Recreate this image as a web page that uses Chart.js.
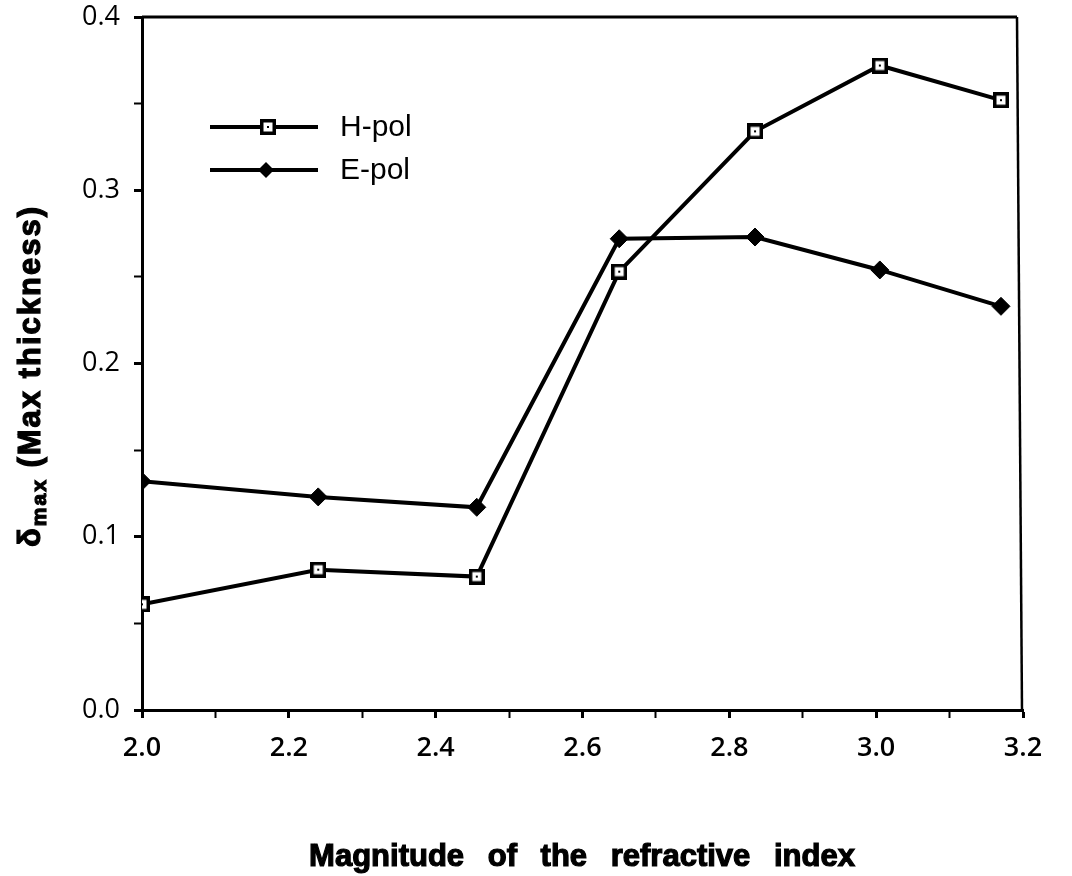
<!DOCTYPE html>
<html>
<head>
<meta charset="utf-8">
<script src="https://cdn.jsdelivr.net/npm/chart.js@4"></script>
<style>
  html, body { margin: 0; padding: 0; background: #fff; }
</style>
</head>
<body>
<canvas id="myChart" width="1072" height="876"></canvas>
<script>
const ctx = document.getElementById('myChart');

// values
const refIndex = [2.0, 2.24, 2.456, 2.65, 2.835, 3.005, 3.17];
const hPol = [0.061, 0.081, 0.077, 0.253, 0.334, 0.372, 0.352];
const ePol = [0.132, 0.123, 0.117, 0.272, 0.273, 0.254, 0.233];
const seriesNames = ['H-pol', 'E-pol'];
const xTitle = 'Magnitude of the refractive index';
const yTitleMain = 'δ';
const yTitleSub = 'max';
const yTitleRest = ' (Max thickness)';

const toPoints = (xs, ys) => xs.map((x, i) => ({ x: x, y: ys[i] }));

// open square with a dot in the middle
const boxMark = document.createElement('canvas');
boxMark.width = 16;
boxMark.height = 16;
const bx = boxMark.getContext('2d');
bx.fillStyle = '#fff';
bx.fillRect(0, 0, 16, 16);
bx.strokeStyle = '#000';
bx.lineWidth = 3.5;
bx.strokeRect(1.75, 1.75, 12.5, 12.5);
bx.fillStyle = '#000';
bx.fillRect(7, 7, 2, 2);

const FONT = '"Liberation Sans", Arial, sans-serif';

const insideLegend = {
  id: 'insideLegend',
  afterDraw(chart) {
    const c = chart.ctx;
    c.save();
    chart.data.datasets.forEach((ds, i) => {
      const y = 127 + i * 43;
      c.strokeStyle = '#000';
      c.lineWidth = 4;
      c.beginPath();
      c.moveTo(210, y);
      c.lineTo(318, y);
      c.stroke();
      if (ds.pointStyle === 'rectRot') {
        c.fillStyle = '#000';
        c.beginPath();
        c.moveTo(266, y - 8);
        c.lineTo(274, y);
        c.lineTo(266, y + 8);
        c.lineTo(258, y);
        c.closePath();
        c.fill();
      } else {
        c.drawImage(boxMark, 268 - 8, y - 8);
      }
      c.fillStyle = '#000';
      c.font = '30px ' + FONT;
      c.textBaseline = 'middle';
      c.textAlign = 'left';
      c.fillText(ds.label, 340, y + 1);
    });
    c.restore();
  }
};

const frameAndTitles = {
  id: 'frameAndTitles',
  afterDraw(chart) {
    const c = chart.ctx;
    const a = chart.chartArea;
    c.save();
    // top and right frame
    c.strokeStyle = '#000';
    c.lineWidth = 3;
    c.beginPath();
    c.moveTo(a.left, a.top);
    c.lineTo(a.right - 6, a.top);
    c.stroke();
    c.lineWidth = 2.5;
    c.beginPath();
    c.moveTo(a.right - 6, a.top);
    c.lineTo(a.right - 1, a.bottom);
    c.stroke();

    // x title
    c.fillStyle = '#000';
    c.strokeStyle = '#000';
    c.lineWidth = 1.2;
    c.font = 'bold 31px ' + FONT;
    c.textBaseline = 'middle';
    c.textAlign = 'center';
    c.wordSpacing = '15px';
    c.fillText(xTitle, 582, 857);
    c.strokeText(xTitle, 582, 857);
    c.wordSpacing = '0px';

    // y title with subscript, rotated
    c.translate(31, 547);
    c.rotate(-Math.PI / 2);
    c.textAlign = 'left';
    c.letterSpacing = '2px';
    c.font = 'bold 31px ' + FONT;
    c.fillText(yTitleMain, 0, 0);
    c.strokeText(yTitleMain, 0, 0);
    let w = c.measureText(yTitleMain).width;
    c.font = 'bold 21px ' + FONT;
    c.fillText(yTitleSub, w, 9);
    c.strokeText(yTitleSub, w, 9);
    w += c.measureText(yTitleSub).width;
    c.font = 'bold 31px ' + FONT;
    c.fillText(yTitleRest, w, 0);
    c.strokeText(yTitleRest, w, 0);
    c.restore();
  }
};

new Chart(ctx, {
  type: 'line',
  data: {
    datasets: [{
      label: seriesNames[0],
      data: toPoints(refIndex, hPol),
      borderColor: '#000',
      borderWidth: 4,
      pointStyle: boxMark,
      pointRadius: 8,
      tension: 0
    },
    {
      label: seriesNames[1],
      data: toPoints(refIndex, ePol),
      borderColor: '#000',
      backgroundColor: '#000',
      borderWidth: 4,
      pointStyle: 'rectRot',
      pointRadius: 9,
      pointBorderWidth: 1,
      tension: 0
    }]
  },
  plugins: [insideLegend, frameAndTitles],
  options: {
    responsive: false,
    animation: false,
    layout: { padding: { top: 17, right: 49, left: 0, bottom: 0 } },
    plugins: {
      legend: { display: false },
      tooltip: { enabled: false }
    },
    scales: {
      x: {
        type: 'linear',
        min: 2.0,
        max: 3.2,
        afterFit: (s) => {
          s.height = 166;
          s.paddingLeft = 0;
          s.paddingRight = 0;
        },
        border: { display: true, color: '#000', width: 3 },
        grid: {
          drawOnChartArea: false,
          drawTicks: true,
          tickLength: 8,
          tickColor: '#000',
          tickWidth: (c) => (Math.round(c.tick.value * 10) % 2 === 0 ? 3 : 2)
        },
        ticks: {
          stepSize: 0.1,
          autoSkip: false,
          maxRotation: 0,
          color: '#000',
          padding: 14,
          font: { family: '"Open Sans", sans-serif', size: 27, weight: '600' },
          callback: (v) => (Math.round(v * 10) % 2 === 0 ? v.toFixed(1) : '')
        }
      },
      y: {
        min: 0,
        max: 0.4,
        afterFit: (s) => {
          s.width = 142;
          s.paddingTop = 0;
          s.paddingBottom = 0;
        },
        border: { display: true, color: '#000', width: 3 },
        grid: {
          drawOnChartArea: false,
          drawTicks: true,
          tickLength: 8,
          tickColor: '#000',
          tickWidth: (c) => (Math.round(c.tick.value * 100) % 10 === 0 ? 3 : 2)
        },
        ticks: {
          stepSize: 0.05,
          autoSkip: false,
          color: '#000',
          padding: 14,
          font: { family: '"Open Sans", sans-serif', size: 27 },
          callback: (v) => (Math.round(v * 100) % 10 === 0 ? v.toFixed(1) : '')
        }
      }
    }
  }
});
</script>
</body>
</html>
